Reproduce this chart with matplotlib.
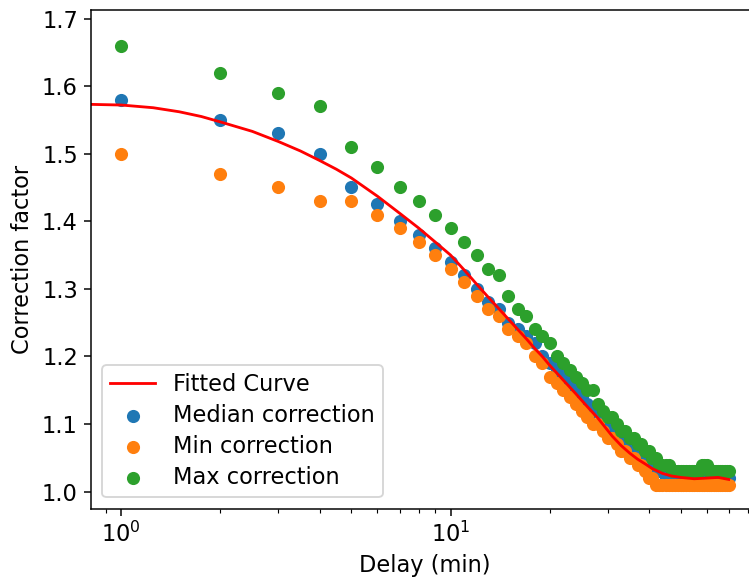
import matplotlib.pyplot as plt

plt.rcParams['font.family'] = 'DejaVu Sans'
plt.rcParams['font.size'] = 12

# delay in minutes (1..70)
delay = list(range(1, 71))

median_corr = [1.58, 1.55, 1.53, 1.50, 1.45, 1.425, 1.40, 1.38, 1.36, 1.34,
               1.32, 1.30, 1.28, 1.27, 1.25, 1.24, 1.23, 1.22, 1.20, 1.19,
               1.18, 1.17, 1.16, 1.15, 1.14, 1.13, 1.12, 1.12, 1.11, 1.10,
               1.09, 1.09, 1.08, 1.07, 1.07, 1.06, 1.06, 1.05, 1.05, 1.04,
               1.04, 1.03, 1.03, 1.03, 1.02, 1.02, 1.02, 1.02, 1.02, 1.02,
               1.02, 1.02, 1.02, 1.02, 1.02, 1.02, 1.02, 1.02, 1.02, 1.02,
               1.02, 1.02, 1.02, 1.02, 1.02, 1.02, 1.02, 1.02, 1.02, 1.02]

min_corr = [1.50, 1.47, 1.45, 1.43, 1.43, 1.41, 1.39, 1.37, 1.35, 1.33,
            1.31, 1.29, 1.27, 1.26, 1.24, 1.23, 1.22, 1.20, 1.19, 1.17,
            1.16, 1.15, 1.14, 1.13, 1.12, 1.11, 1.10, 1.10, 1.09, 1.08,
            1.08, 1.07, 1.06, 1.06, 1.05, 1.05, 1.04, 1.04, 1.03, 1.02,
            1.02, 1.01, 1.01, 1.01, 1.01, 1.01, 1.01, 1.01, 1.01, 1.01,
            1.01, 1.01, 1.01, 1.01, 1.01, 1.01, 1.01, 1.01, 1.01, 1.01,
            1.01, 1.01, 1.01, 1.01, 1.01, 1.01, 1.01, 1.01, 1.01, 1.01]

max_corr = [1.66, 1.62, 1.59, 1.57, 1.51, 1.48, 1.45, 1.43, 1.41, 1.39,
            1.37, 1.35, 1.33, 1.32, 1.29, 1.27, 1.26, 1.24, 1.23, 1.22,
            1.20, 1.19, 1.18, 1.17, 1.16, 1.15, 1.15, 1.13, 1.12, 1.11,
            1.11, 1.10, 1.09, 1.09, 1.08, 1.08, 1.07, 1.07, 1.06, 1.06,
            1.05, 1.05, 1.04, 1.04, 1.04, 1.04, 1.03, 1.03, 1.03, 1.03,
            1.03, 1.03, 1.03, 1.03, 1.03, 1.03, 1.03, 1.04, 1.04, 1.04,
            1.03, 1.03, 1.03, 1.03, 1.03, 1.03, 1.03, 1.03, 1.03, 1.03]

# fitted curve, sampled off the chart
fit_x = [0.8, 1, 1.25, 1.5, 1.75, 2, 2.5, 3, 3.5, 4, 4.5, 5, 6, 7, 8, 9,
         10, 11, 12, 13, 14, 15, 16, 17, 18, 19, 20, 22, 24, 26, 28, 31,
         33, 35, 37, 39, 41, 44, 47, 50, 55, 60, 65, 70]
fit_y = [1.573, 1.572, 1.568, 1.562, 1.555, 1.547, 1.533, 1.518, 1.504,
         1.490, 1.477, 1.464, 1.437, 1.412, 1.390, 1.369, 1.350, 1.328,
         1.307, 1.288, 1.271, 1.255, 1.240, 1.226, 1.212, 1.200, 1.187,
         1.165, 1.145, 1.126, 1.109, 1.082, 1.068, 1.057, 1.048, 1.041,
         1.034, 1.027, 1.023, 1.021, 1.019, 1.020, 1.021, 1.018]

fig = plt.figure(figsize=(749 / 135, 577 / 135), dpi=135)
ax = fig.add_axes([91 / 749, 68.5 / 577, 668 / 749, 498.5 / 577])

ax.plot(fit_x, fit_y, color='red', label='Fitted Curve')
ax.scatter(delay, median_corr, label='Median correction')
ax.scatter(delay, min_corr, label='Min correction')
ax.scatter(delay, max_corr, label='Max correction')

ax.set_xscale('log')
ax.set_xlim(0.809, 86.5)
ax.set_ylim(0.975, 1.7126)
ax.set_yticks([1.0, 1.1, 1.2, 1.3, 1.4, 1.5, 1.6, 1.7])
ax.set_xlabel('Delay (min)')
ax.set_ylabel('Correction factor')
ax.legend(loc='lower left', labelspacing=0.36, borderpad=0.35)

fig.savefig('out.png', dpi=135)
